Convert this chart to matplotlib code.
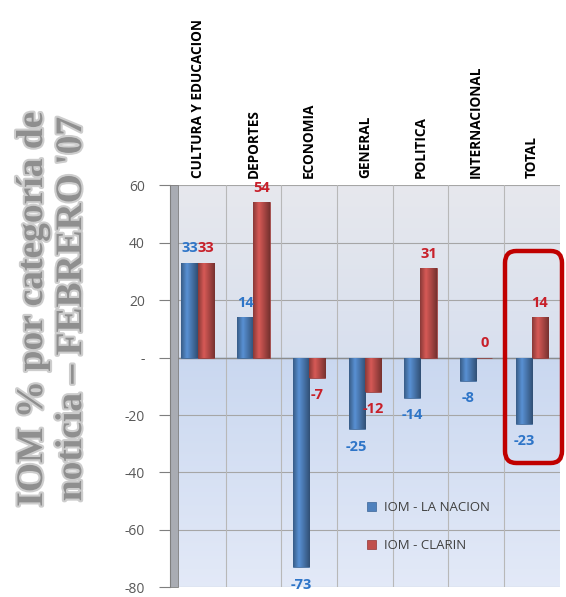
import numpy as np
import matplotlib
matplotlib.use('Agg')
import matplotlib.pyplot as plt
from matplotlib.patches import FancyBboxPatch, Rectangle
import matplotlib.patheffects as pe
from matplotlib.colors import to_rgb

# data
categories = ['CULTURA Y EDUCACION', 'DEPORTES', 'ECONOMIA', 'GENERAL',
              'POLITICA', 'INTERNACIONAL', 'TOTAL']
la_nacion = [33, 14, -73, -25, -14, -8, -23]
clarin = [33, 54, -7, -12, 31, 0, 14]
series_names = ['IOM - LA NACION', 'IOM - CLARIN']
yticks = [60, 40, 20, 0, -20, -40, -60, -80]
ytick_labels = ['60', '40', '20', '-', '-20', '-40', '-60', '-80']


def shade_bars(ax, bars, base):
    # cylinder-like shading across each bar
    c = np.array(to_rgb(base))
    prof = np.interp(np.linspace(0, 1, 40), [0, 0.35, 1], [0.72, 1.12, 0.62])
    img = np.clip(c[None, None, :] * prof[None, :, None], 0, 1)
    for b in bars:
        h = b.get_height()
        if h == 0:
            continue
        y0, y1 = sorted([b.get_y(), b.get_y() + h])
        im = ax.imshow(img, extent=(b.get_x(), b.get_x() + b.get_width(), y0, y1),
                       aspect='auto', zorder=3.5)
        im.set_clip_path(b)


def main():
    fig = plt.figure(figsize=(5.66, 5.97), dpi=100)
    ax = fig.add_axes([0.300, 0.016, 0.689, 0.674])

    n = len(categories)
    x = np.arange(n)
    w = 0.29

    # background gradient (grey at top, blue below zero)
    grad = np.zeros((200, 2, 3))
    top = np.array([0.905, 0.91, 0.93])
    mid = np.array([0.79, 0.845, 0.94])
    bot = np.array([0.89, 0.915, 0.97])
    for i in range(200):
        t = i / 199.0
        if t < 0.43:
            c = top + (mid - top) * (t / 0.43) * 0.5
        else:
            c = mid + (bot - mid) * ((t - 0.43) / 0.57)
        grad[i, :, :] = c
    ax.imshow(grad, extent=(-0.5, n - 0.5, -80, 60), aspect='auto', zorder=0)

    ax.set_xlim(-0.5, n - 0.5)
    ax.set_ylim(-80, 60)

    # gridlines
    for y in yticks:
        ax.axhline(y, color='#a6a6a6', linewidth=0.8, zorder=1)
    for b in np.arange(0.5, n - 0.5, 1):
        ax.axvline(b, color='#b8b8b8', linewidth=0.8, zorder=1)
    ax.axhline(0, color='#8c8c8c', linewidth=1.0, zorder=1)

    # left wall
    ax.add_patch(Rectangle((0, 0), 0.022, 1, transform=ax.transAxes,
                           facecolor='#a9acb3', edgecolor='#7f7f7f',
                           linewidth=0.6, zorder=2, clip_on=False))

    b1 = ax.bar(x - w / 2, la_nacion, w, color='#4f81bd', edgecolor='#3a6496',
                linewidth=0.5, zorder=3)
    b2 = ax.bar(x + w / 2, clarin, w, color='#c0504d', edgecolor='#943634',
                linewidth=0.5, zorder=3)
    shade_bars(ax, b1, '#4f81bd')
    shade_bars(ax, b2, '#c0504d')

    # value labels
    for xs, vals, col in [(x - w / 2, la_nacion, '#2e75c8'),
                          (x + w / 2, clarin, '#c8202a')]:
        for xi, v in zip(xs, vals):
            off = 5 if v >= 0 else -6
            ax.text(xi, v + off, str(v), ha='center', va='center',
                    fontsize=10.5, fontweight='bold', color=col,
                    family=['Open Sans', 'DejaVu Sans'], zorder=5)

    # category labels on top
    for xi, name in zip(x, categories):
        ax.text(xi, 62.5, name, rotation=90, ha='center', va='bottom',
                fontsize=9.8, fontweight='bold', color='black',
                family=['Open Sans', 'DejaVu Sans'], clip_on=False)

    ax.set_xticks([])
    ax.set_yticks(yticks)
    ax.set_yticklabels(ytick_labels, fontsize=10, color='#595959',
                       family=['Open Sans', 'DejaVu Sans'])
    ax.tick_params(axis='y', length=8, color='#7f7f7f', pad=10)
    for side in ['top', 'right', 'bottom']:
        ax.spines[side].set_visible(False)
    ax.spines['left'].set_color('#7f7f7f')

    leg = ax.legend([b1, b2], series_names, loc='upper left',
                    bbox_to_anchor=(0.475, 0.245), frameon=False,
                    handlelength=0.7, handleheight=0.7, labelspacing=1.9,
                    handletextpad=0.6,
                    prop={'family': 'Open Sans', 'size': 9.5})
    for t in leg.get_texts():
        t.set_color('#404040')

    # highlight box around TOTAL
    fig.add_artist(FancyBboxPatch((505 / 566, 1 - 463 / 597),
                                  57 / 566, 212 / 597,
                                  boxstyle='round,pad=0,rounding_size=0.02',
                                  transform=fig.transFigure, fill=False,
                                  edgecolor='#c00000', linewidth=3.2,
                                  zorder=10))

    # y-axis title
    fig.text(0.092, 0.482, "IOM % por categoría de\nnoticia – FEBRERO '07",
             rotation=90, ha='center', va='center', fontsize=27,
             fontweight='bold', color='#8f8f8f', family='Liberation Serif',
             linespacing=1.15,
             path_effects=[pe.withStroke(linewidth=3, foreground='#cdcdcd')])

    fig.savefig('out.png', dpi=100)


if __name__ == '__main__':
    main()
